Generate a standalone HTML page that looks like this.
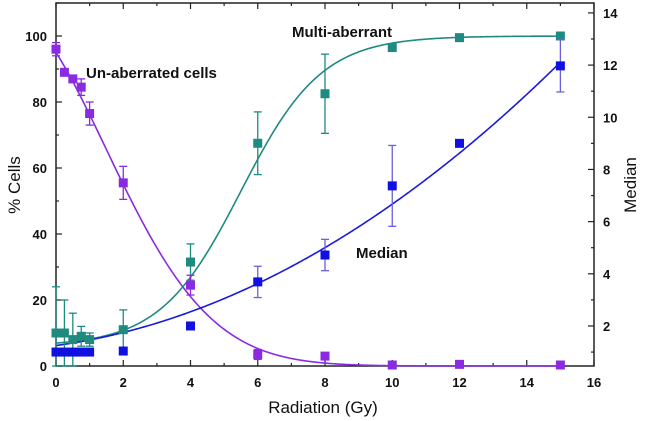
<!DOCTYPE html>
<html><head><meta charset="utf-8"><style>
body{margin:0;background:#fff;}
svg{display:block;font-family:"Liberation Sans",sans-serif;}
.tk{font-size:13px;font-weight:bold;fill:#111;}
.lbl{font-size:15px;font-weight:bold;fill:#111;}
</style></head><body>
<svg id="chart" width="645" height="421" viewBox="0 0 645 421" xmlns="http://www.w3.org/2000/svg"></svg>
<script>
const doses = [0,0.25,0.5,0.75,1,2,4,6,8,10,12,15];
const unaberrated = [96,89,87,84.5,76.5,55.5,24.5,3.5,3,0.3,0.5,0.3];
const unaberratedErr = [2,1,1,2.5,3.5,5,3,1.5,1,0.5,1,0.3];
const multi = [10,10,8,9,8,11,31.5,67.5,82.5,96.5,99.5,100];
const multiErr = [14,10,8,3,2,6,5.5,9.5,12,1,0.5,0];
const median = [1,1,1,1,1,1.04,2,3.69,4.72,7.37,9,11.97];
const medianErr = [0,0,0,0,0,0,0,0.6,0.6,1.55,0,1];
const unabFit = [95,0.169,0.052];
const multiFit = [6,94,5.5,1.2];
const medianFit = [1.25,0.178,0.0364];
const xTicks = [0,2,4,6,8,10,12,14,16];
const yTicks = [0,20,40,60,80,100];
const y2Ticks = [2,4,6,8,10,12,14];

const X0=56,X1=594,YT=3,YB=366;
const sx=v=>X0+(X1-X0)*v/16;
const sy=v=>YB-(YB-YT)*v/110;
const y2min=0.466,y2max=14.38;
const sy2=v=>YB-(YB-YT)*(v-y2min)/(y2max-y2min);
const svg=document.getElementById('chart');
const NS='http://www.w3.org/2000/svg';
function mk(tag,attrs,parent){const e=document.createElementNS(NS,tag);for(const k in attrs)e.setAttribute(k,attrs[k]);(parent||svg).appendChild(e);return e;}

// frame
const frame=mk('rect',{x:X0,y:YT,width:X1-X0,height:YB-YT,fill:'none',stroke:'#222','stroke-width':1.5});


// x ticks
for(let v=0;v<=16;v++){const major=v%2===0;const L=major?6:3;
 mk('line',{x1:sx(v),x2:sx(v),y1:YB,y2:YB-L,stroke:'#222','stroke-width':1.2});
 mk('line',{x1:sx(v),x2:sx(v),y1:YT,y2:YT+L,stroke:'#222','stroke-width':1.2});}
xTicks.forEach(v=>{const t=mk('text',{x:sx(v),y:YB+21,'text-anchor':'middle',class:'tk'});t.textContent=v;
 
 });
for(let v=0;v<=110;v+=10){const L=v%20===0?6:3;mk('line',{x1:X0,x2:X0+L,y1:sy(v),y2:sy(v),stroke:'#222','stroke-width':1.2});}
yTicks.forEach(v=>{const t=mk('text',{x:X0-9,y:sy(v)+5,'text-anchor':'end',class:'tk'});t.textContent=v;
 
 });
for(let v=1;v<=14;v++){const L=v%2===0?6:3;mk('line',{x1:X1,x2:X1-L,y1:sy2(v),y2:sy2(v),stroke:'#222','stroke-width':1.2});}
y2Ticks.forEach(v=>{const t=mk('text',{x:X1+9,y:sy2(v)+5,'text-anchor':'start',class:'tk'});t.textContent=v;
 
 });
// axis titles
let t=mk('text',{x:323,y:413,'text-anchor':'middle','font-size':17,fill:'#111'});t.textContent='Radiation (Gy)';

t=mk('text',{x:0,y:0,'text-anchor':'middle','font-size':17,fill:'#111',transform:'translate(20,185) rotate(-90)'});t.textContent='% Cells';

t=mk('text',{x:0,y:0,'text-anchor':'middle','font-size':17,fill:'#111',transform:'translate(636,185) rotate(-90)'});t.textContent='Median';


function curve(f,ys,color,name){let d='';for(let i=0;i<=300;i++){const x=15*i/300;d+=(i?'L':'M')+sx(x).toFixed(2)+' '+ys(f(x)).toFixed(2);}
 const p=mk('path',{d:d,fill:'none',stroke:color,'stroke-width':1.6});
 
 }
curve(x=>unabFit[0]*Math.exp(-unabFit[1]*x-unabFit[2]*x*x),sy,'#8a2be2','unaberrated-fit');
curve(x=>multiFit[0]+multiFit[1]/(1+Math.exp(-(x-multiFit[2])/multiFit[3])),sy,'#1f8a80','multi-aberrant-fit');
curve(x=>medianFit[0]+medianFit[1]*x+medianFit[2]*x*x,sy2,'#1a1adb','median-fit');

function series(vals,errs,ys,color,ecolor,name){vals.forEach((v,i)=>{const cx=sx(doses[i]),cy=ys(v);
 if(errs[i]>0){const a=ys(v+errs[i]),b=ys(Math.max(v-errs[i],y2min===0?0:-99));
  const bb=Math.min(b,YB);
  mk('line',{x1:cx,x2:cx,y1:a,y2:bb,stroke:ecolor,'stroke-width':1.3});
  mk('line',{x1:cx-4,x2:cx+4,y1:a,y2:a,stroke:ecolor,'stroke-width':1.3});
  mk('line',{x1:cx-4,x2:cx+4,y1:bb,y2:bb,stroke:ecolor,'stroke-width':1.3});}
 const r=mk('rect',{x:cx-4.5,y:cy-4.5,width:9,height:9,fill:color});
 
 });}
series(multi,multiErr,sy,'#1f8a80','#1f8a80','multi-aberrant');
series(unaberrated,unaberratedErr,sy,'#8a2be2','#8a2be2','unaberrated');
series(median,medianErr,sy2,'#1010e0','#6a5fe0','median');

t=mk('text',{x:86,y:78,class:'lbl'});t.textContent='Un-aberrated cells';

t=mk('text',{x:292,y:37,class:'lbl'});t.textContent='Multi-aberrant';

t=mk('text',{x:356,y:258,class:'lbl'});t.textContent='Median';

</script>
</body></html>
